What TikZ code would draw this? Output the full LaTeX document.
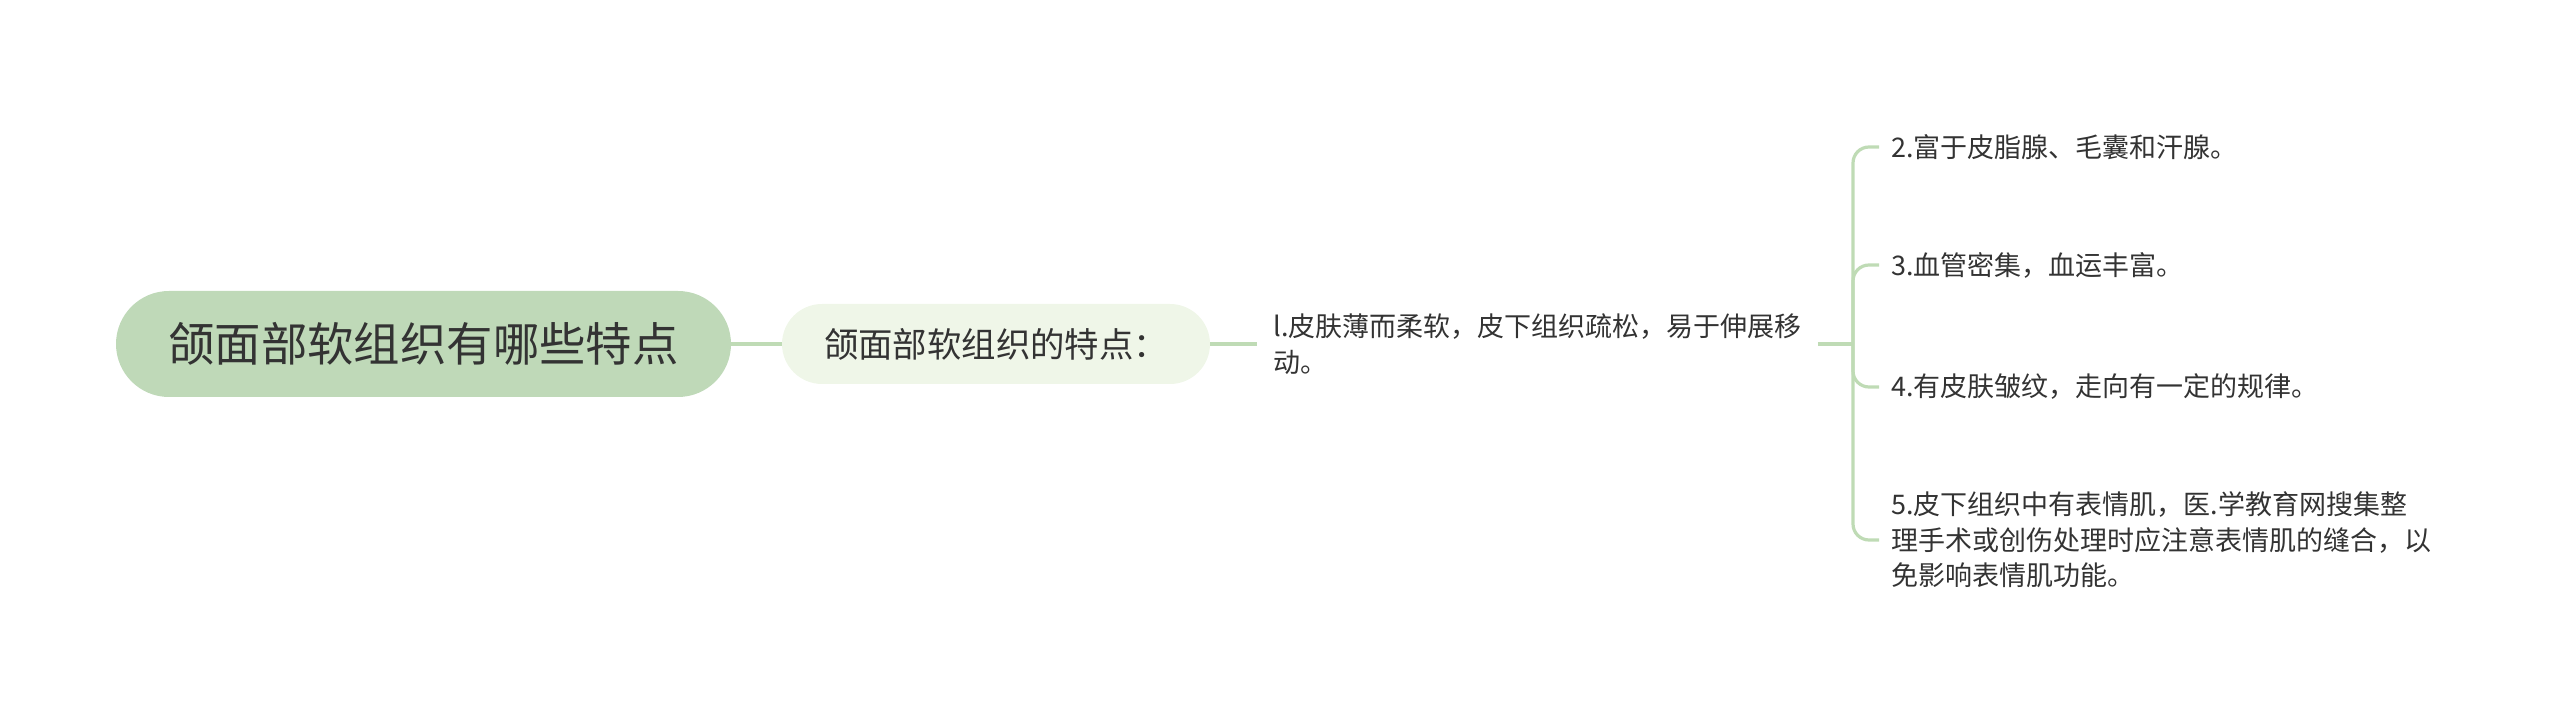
\documentclass[tikz,border=0pt]{standalone}
\usepackage{fontspec}
\newfontfamily\cjk{Noto Sans CJK SC}
\usepackage{xcolor}
\usetikzlibrary{positioning,calc}
\definecolor{rootfill}{HTML}{BFD9B8}
\definecolor{subfill}{HTML}{EFF6E8}
\definecolor{linkc}{HTML}{BFDBB5}
\definecolor{txt}{HTML}{333333}

\begin{document}
\begin{tikzpicture}[x=0.5pt,y=-0.5pt,
        link/.style={draw=linkc, line width=1.6pt},
        root node/.style={rectangle, rounded corners=26.5pt, fill=rootfill, minimum width=307.5pt, minimum height=53pt, font=\cjk\fontsize{23.2}{28}\selectfont, text=txt},
        sub node/.style={rectangle, rounded corners=20pt, fill=subfill, minimum width=214pt, minimum height=40pt, font=\cjk\fontsize{17.2}{20}\selectfont, text=txt},
        leaf node/.style={rectangle, anchor=west, align=left, inner xsep=6pt, inner ysep=2pt, font=\cjk\fontsize{13.5}{17.8}\selectfont, text=txt}]

\useasboundingbox (0,0) rectangle (2560,721);

\node[root node] (1) at (423.5,344) {颌面部软组织有哪些特点};
\node[sub node] (2) at (996,344) {颌面部软组织的特点：};
\node[leaf node, inner xsep=8pt] (3) at (1257,344) {l.皮肤薄而柔软，皮下组织疏松，易于伸展移\\动。};

\coordinate (j) at (1853,344);

\node[leaf node] (4) at (1879,147) {2.富于皮脂腺、毛囊和汗腺。};
\node[leaf node] (5) at (1879,265) {3.血管密集，血运丰富。};
\node[leaf node] (6) at (1879,387) {4.有皮肤皱纹，走向有一定的规律。};
\node[leaf node] (7) at (1879,540) {5.皮下组织中有表情肌，医.学教育网搜集整\\理手术或创伤处理时应注意表情肌的缝合，以\\免影响表情肌功能。};

\draw[link] (1.east) -- (2.west);
\draw[link] (2.east) -- (3.west);
\draw[link] (3.east) -- (j);

\draw[link, rounded corners=8pt] (j) |- (4.west);
\draw[link, rounded corners=8pt] (j) |- (5.west);
\draw[link, rounded corners=8pt] (j) |- (6.west);
\draw[link, rounded corners=8pt] (j) |- (7.west);

\end{tikzpicture}
\end{document}
